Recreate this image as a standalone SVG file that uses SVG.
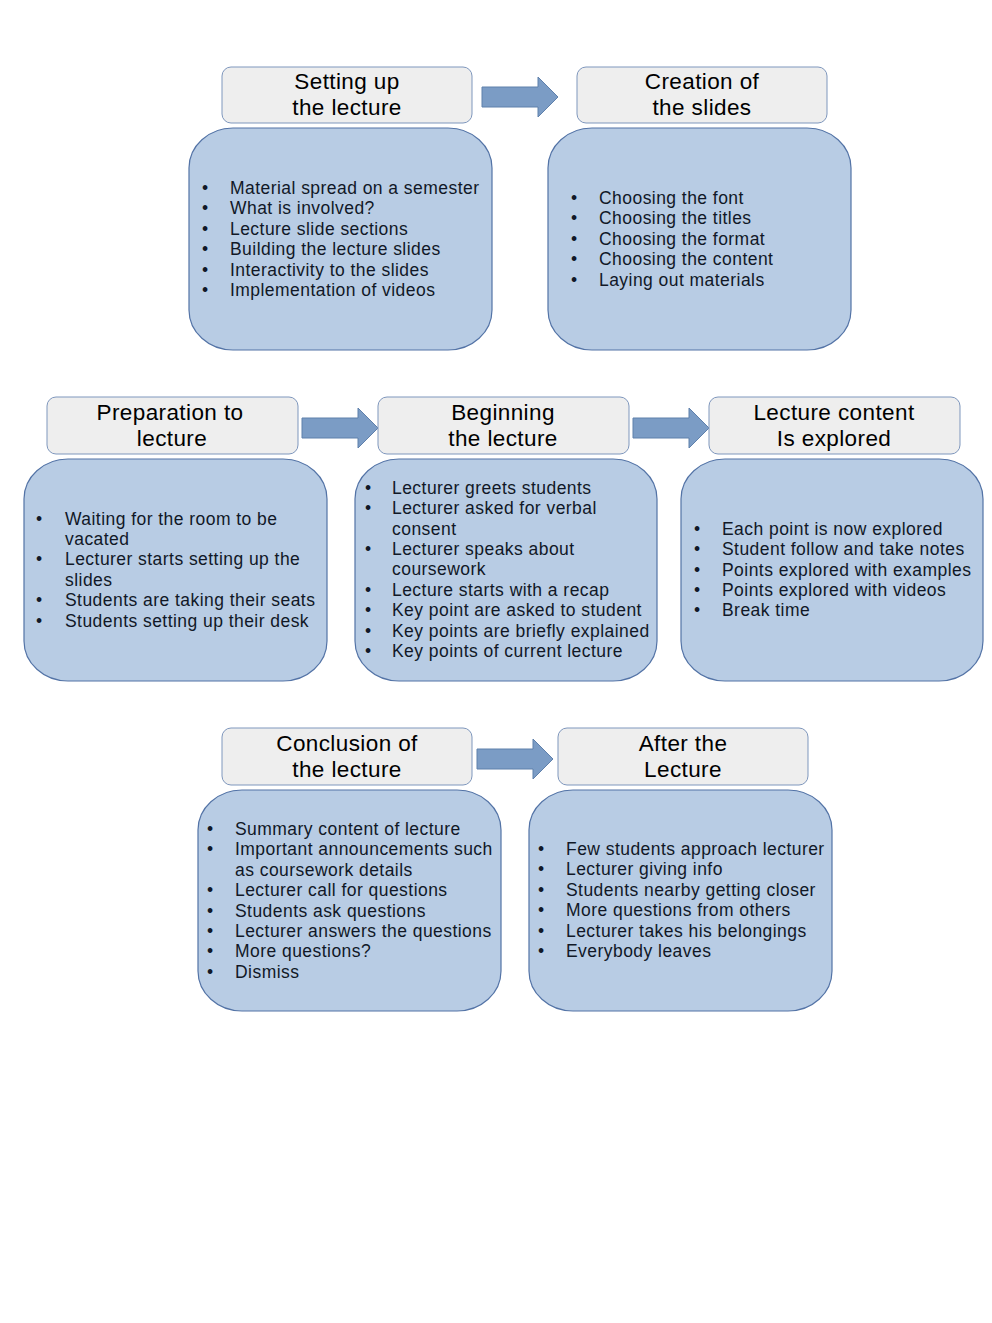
<svg xmlns="http://www.w3.org/2000/svg" width="992" height="1323" viewBox="0 0 992 1323">
<style>
.hdr{fill:#eeeeee;stroke:#7f97bd;stroke-width:1}
.body{fill:#b8cce4;stroke:#5373a6;stroke-width:1.2}
.arr{fill:#7b9cc5;stroke:#5f80ab;stroke-width:1}
.ht{font-family:"Liberation Sans",Arial,sans-serif;font-size:22.5px;fill:#000;text-anchor:middle;letter-spacing:0.4px}
.bt{font-family:"Liberation Sans",Arial,sans-serif;font-size:17.5px;fill:#111827;letter-spacing:0.45px}
</style>
<rect width="992" height="1323" fill="#ffffff"/>
<g id="connectors">
<polygon class="arr" points="482,87 538,87 538,77 558,97 538,117 538,107 482,107"/>
<polygon class="arr" points="302,418 358,418 358,408 378,428 358,448 358,438 302,438"/>
<polygon class="arr" points="633,418 689,418 689,408 709,428 689,448 689,438 633,438"/>
<polygon class="arr" points="477,749 533,749 533,739 553,759 533,779 533,769 477,769"/>
</g>
<g id="n1">
<rect class="hdr" x="222" y="67" width="250" height="56" rx="9"/>
<text class="ht" x="347" y="89">Setting up</text>
<text class="ht" x="347" y="115">the lecture</text>
<rect class="body" x="189" y="128" width="303" height="222" rx="44" ry="40"/>
<g class="bt">
<text x="202" y="194">•</text><text x="230" y="194">Material spread on a semester</text>
<text x="202" y="214">•</text><text x="230" y="214">What is involved?</text>
<text x="202" y="235">•</text><text x="230" y="235">Lecture slide sections</text>
<text x="202" y="255">•</text><text x="230" y="255">Building the lecture slides</text>
<text x="202" y="276">•</text><text x="230" y="276">Interactivity to the slides</text>
<text x="202" y="296">•</text><text x="230" y="296">Implementation of videos</text>
</g>
</g>
<g id="n2">
<rect class="hdr" x="577" y="67" width="250" height="56" rx="9"/>
<text class="ht" x="702" y="89">Creation of</text>
<text class="ht" x="702" y="115">the slides</text>
<rect class="body" x="548" y="128" width="303" height="222" rx="44" ry="40"/>
<g class="bt">
<text x="571" y="204">•</text><text x="599" y="204">Choosing the font</text>
<text x="571" y="224">•</text><text x="599" y="224">Choosing the titles</text>
<text x="571" y="245">•</text><text x="599" y="245">Choosing the format</text>
<text x="571" y="265">•</text><text x="599" y="265">Choosing the content</text>
<text x="571" y="286">•</text><text x="599" y="286">Laying out materials</text>
</g>
</g>
<g id="n3">
<rect class="hdr" x="47" y="397" width="251" height="57" rx="9"/>
<text class="ht" x="170" y="420">Preparation to</text>
<text class="ht" x="172" y="446">lecture</text>
<rect class="body" x="24" y="459" width="303" height="222" rx="44" ry="40"/>
<g class="bt">
<text x="36" y="525">•</text><text x="65" y="525">Waiting for the room to be</text>
<text x="65" y="545">vacated</text>
<text x="36" y="565">•</text><text x="65" y="565">Lecturer starts setting up the</text>
<text x="65" y="586">slides</text>
<text x="36" y="606">•</text><text x="65" y="606">Students are taking their seats</text>
<text x="36" y="627">•</text><text x="65" y="627">Students setting up their desk</text>
</g>
</g>
<g id="n4">
<rect class="hdr" x="378" y="397" width="251" height="57" rx="9"/>
<text class="ht" x="503" y="420">Beginning</text>
<text class="ht" x="503" y="446">the lecture</text>
<rect class="body" x="355" y="459" width="302" height="222" rx="44" ry="40"/>
<g class="bt">
<text x="365" y="494">•</text><text x="392" y="494">Lecturer greets students</text>
<text x="365" y="514">•</text><text x="392" y="514">Lecturer asked for verbal</text>
<text x="392" y="535">consent</text>
<text x="365" y="555">•</text><text x="392" y="555">Lecturer speaks about</text>
<text x="392" y="575">coursework</text>
<text x="365" y="596">•</text><text x="392" y="596">Lecture starts with a recap</text>
<text x="365" y="616">•</text><text x="392" y="616">Key point are asked to student</text>
<text x="365" y="637">•</text><text x="392" y="637">Key points are briefly explained</text>
<text x="365" y="657">•</text><text x="392" y="657">Key points of current lecture</text>
</g>
</g>
<g id="n5">
<rect class="hdr" x="709" y="397" width="251" height="57" rx="9"/>
<text class="ht" x="834" y="420">Lecture content</text>
<text class="ht" x="834" y="446">Is explored</text>
<rect class="body" x="681" y="459" width="302" height="222" rx="44" ry="40"/>
<g class="bt">
<text x="694" y="535">•</text><text x="722" y="535">Each point is now explored</text>
<text x="694" y="555">•</text><text x="722" y="555">Student follow and take notes</text>
<text x="694" y="576">•</text><text x="722" y="576">Points explored with examples</text>
<text x="694" y="596">•</text><text x="722" y="596">Points explored with videos</text>
<text x="694" y="616">•</text><text x="722" y="616">Break time</text>
</g>
</g>
<g id="n6">
<rect class="hdr" x="222" y="728" width="250" height="57" rx="9"/>
<text class="ht" x="347" y="751">Conclusion of</text>
<text class="ht" x="347" y="777">the lecture</text>
<rect class="body" x="198" y="790" width="303" height="221" rx="44" ry="40"/>
<g class="bt">
<text x="207" y="835">•</text><text x="235" y="835">Summary content of lecture</text>
<text x="207" y="855">•</text><text x="235" y="855">Important announcements such</text>
<text x="235" y="876">as coursework details</text>
<text x="207" y="896">•</text><text x="235" y="896">Lecturer call for questions</text>
<text x="207" y="917">•</text><text x="235" y="917">Students ask questions</text>
<text x="207" y="937">•</text><text x="235" y="937">Lecturer answers the questions</text>
<text x="207" y="957">•</text><text x="235" y="957">More questions?</text>
<text x="207" y="978">•</text><text x="235" y="978">Dismiss</text>
</g>
</g>
<g id="n7">
<rect class="hdr" x="558" y="728" width="250" height="57" rx="9"/>
<text class="ht" x="683" y="751">After the</text>
<text class="ht" x="683" y="777">Lecture</text>
<rect class="body" x="529" y="790" width="303" height="221" rx="44" ry="40"/>
<g class="bt">
<text x="538" y="855">•</text><text x="566" y="855">Few students approach lecturer</text>
<text x="538" y="875">•</text><text x="566" y="875">Lecturer giving info</text>
<text x="538" y="896">•</text><text x="566" y="896">Students nearby getting closer</text>
<text x="538" y="916">•</text><text x="566" y="916">More questions from others</text>
<text x="538" y="937">•</text><text x="566" y="937">Lecturer takes his belongings</text>
<text x="538" y="957">•</text><text x="566" y="957">Everybody leaves</text>
</g>
</g>
</svg>
